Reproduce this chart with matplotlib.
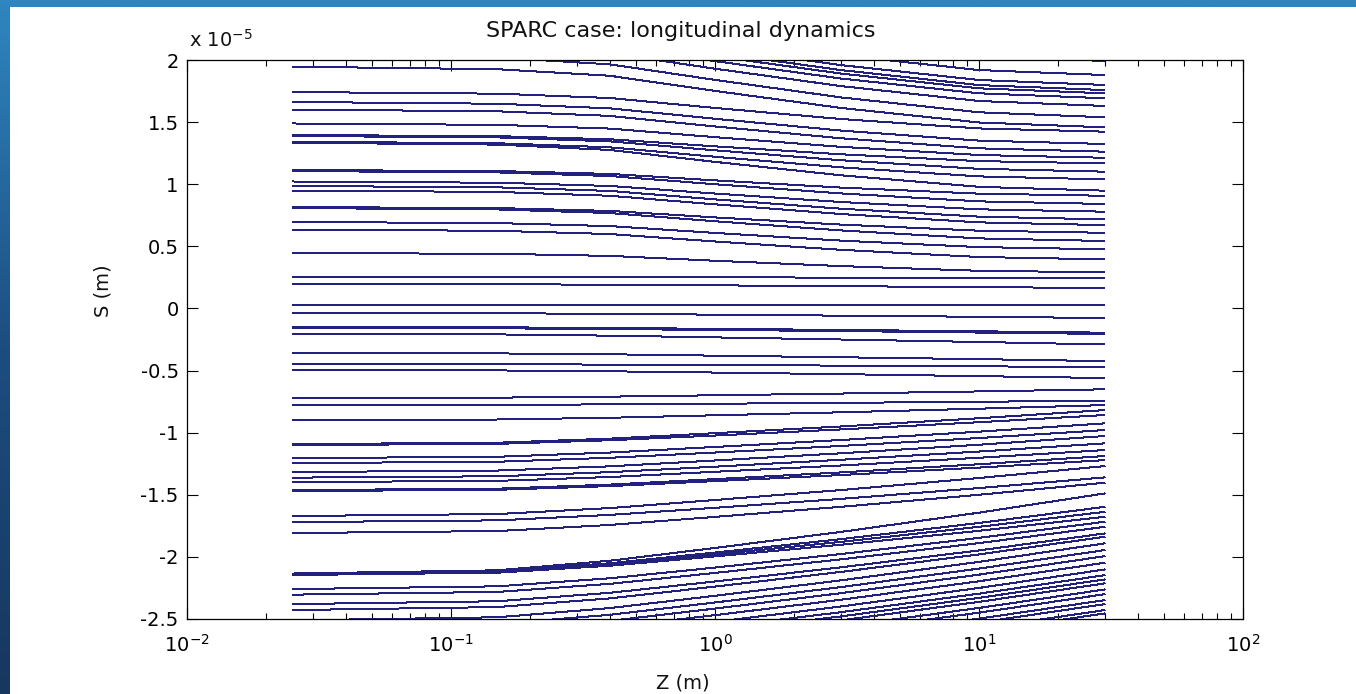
import numpy as np
import matplotlib
matplotlib.use("Agg")
import matplotlib.pyplot as plt
from matplotlib.patches import Rectangle
from matplotlib.colors import LinearSegmentedColormap
from matplotlib.ticker import FixedLocator, LogLocator, NullFormatter

# ---------------- data (S in units of 1e-5 m) ----------------
z_nodes = [0.025, 0.15, 0.4, 1.0, 3.0, 10.0, 30.0]

s_z0025 = [2.49, 2.38, 2.30, 2.26, 2.23, 2.19, 2.13, 2.04, 1.946, 1.742, 1.662, 1.601, 1.489, 1.396, 1.388,
           1.342, 1.334, 1.114, 1.106, 1.022, 0.986, 0.949, 0.816, 0.808, 0.696, 0.635, 0.446,
           0.255, 0.196, 0.027, -0.037, -0.150, -0.158, -0.206, -0.359, -0.448, -0.496,
           -0.721, -0.778, -0.899, -1.092, -1.100, -1.205, -1.245, -1.317, -1.362, -1.398, -1.462, -1.470,
           -1.671, -1.720, -1.808, -2.134, -2.138, -2.142, -2.146, -2.259, -2.304, -2.380, -2.428,
           -2.511, -2.565, -2.614, -2.667, -2.721, -2.767, -2.801, -2.833, -2.882, -2.920, -2.968, -3.000,
           -3.048, -3.075]
s_z015 = [2.470, 2.360, 2.280, 2.240, 2.210, 2.170, 2.110, 2.020, 1.926, 1.729, 1.648, 1.587, 1.478, 1.387, 1.377,
          1.330, 1.319, 1.106, 1.095, 1.012, 0.975, 0.938, 0.808, 0.797, 0.687, 0.625, 0.440,
          0.254, 0.195, 0.027, -0.039, -0.152, -0.160, -0.209, -0.362, -0.449, -0.499,
          -0.718, -0.777, -0.894, -1.081, -1.090, -1.194, -1.234, -1.305, -1.351, -1.388, -1.451, -1.460,
          -1.655, -1.706, -1.792, -2.108, -2.116, -2.122, -2.127, -2.237, -2.282, -2.357, -2.404,
          -2.486, -2.540, -2.589, -2.642, -2.696, -2.742, -2.776, -2.808, -2.857, -2.895, -2.943, -2.975,
          -3.023, -3.050]
s_z04 = [2.415, 2.305, 2.225, 2.185, 2.155, 2.115, 2.055, 1.965, 1.873, 1.694, 1.611, 1.550, 1.448, 1.362, 1.345,
         1.297, 1.276, 1.083, 1.066, 0.986, 0.946, 0.907, 0.785, 0.768, 0.663, 0.599, 0.423,
         0.253, 0.191, 0.027, -0.043, -0.157, -0.166, -0.219, -0.369, -0.452, -0.506,
         -0.710, -0.772, -0.880, -1.048, -1.061, -1.160, -1.202, -1.271, -1.318, -1.357, -1.418, -1.430,
         -1.607, -1.662, -1.743, -2.031, -2.051, -2.061, -2.071, -2.172, -2.217, -2.289, -2.334,
         -2.412, -2.466, -2.515, -2.568, -2.622, -2.668, -2.702, -2.734, -2.783, -2.821, -2.869, -2.901,
         -2.949, -2.976]
s_z1 = [2.291, 2.180, 2.100, 2.059, 2.031, 1.991, 1.930, 1.840, 1.751, 1.614, 1.527, 1.465, 1.379, 1.305, 1.273,
        1.221, 1.180, 1.031, 1.000, 0.925, 0.878, 0.838, 0.733, 0.702, 0.608, 0.539, 0.384,
        0.251, 0.186, 0.028, -0.050, -0.164, -0.173, -0.233, -0.380, -0.456, -0.516,
        -0.699, -0.767, -0.860, -1.004, -1.023, -1.115, -1.160, -1.224, -1.274, -1.315, -1.374, -1.390,
        -1.542, -1.605, -1.678, -1.928, -1.965, -1.980, -1.996, -2.086, -2.129, -2.198, -2.239,
        -2.313, -2.367, -2.416, -2.469, -2.523, -2.569, -2.603, -2.635, -2.684, -2.722, -2.770, -2.802,
        -2.850, -2.877]
s_z3 = [2.151, 2.039, 1.959, 1.919, 1.891, 1.851, 1.790, 1.699, 1.614, 1.525, 1.432, 1.370, 1.301, 1.241, 1.193,
        1.136, 1.072, 0.973, 0.926, 0.857, 0.803, 0.760, 0.675, 0.628, 0.546, 0.472, 0.341,
        0.248, 0.179, 0.029, -0.058, -0.173, -0.182, -0.250, -0.393, -0.460, -0.529,
        -0.685, -0.760, -0.836, -0.950, -0.974, -1.059, -1.107, -1.166, -1.218, -1.264, -1.320, -1.341,
        -1.462, -1.533, -1.597, -1.799, -1.857, -1.879, -1.902, -1.977, -2.020, -2.084, -2.121,
        -2.189, -2.243, -2.292, -2.345, -2.399, -2.445, -2.479, -2.511, -2.560, -2.598, -2.646, -2.678,
        -2.726, -2.753]
s_z10 = [2.032, 1.919, 1.839, 1.798, 1.772, 1.732, 1.670, 1.579, 1.497, 1.449, 1.351, 1.289, 1.235, 1.186, 1.124,
         1.063, 0.979, 0.924, 0.862, 0.798, 0.739, 0.693, 0.626, 0.564, 0.494, 0.414, 0.303,
         0.245, 0.172, 0.029, -0.067, -0.184, -0.194, -0.270, -0.408, -0.466, -0.545,
         -0.668, -0.751, -0.807, -0.884, -0.916, -0.992, -1.043, -1.097, -1.152, -1.202, -1.254, -1.281,
         -1.365, -1.446, -1.500, -1.644, -1.727, -1.758, -1.790, -1.847, -1.889, -1.948, -1.980,
         -2.040, -2.094, -2.143, -2.196, -2.250, -2.296, -2.330, -2.362, -2.411, -2.449, -2.497, -2.529,
         -2.577, -2.604]
s_z30 = [1.992, 1.879, 1.799, 1.758, 1.732, 1.692, 1.630, 1.539, 1.458, 1.423, 1.324, 1.262, 1.213, 1.168, 1.101,
         1.039, 0.948, 0.907, 0.841, 0.779, 0.717, 0.671, 0.609, 0.543, 0.476, 0.395, 0.291,
         0.242, 0.164, 0.030, -0.077, -0.195, -0.205, -0.290, -0.424, -0.472, -0.560,
         -0.651, -0.743, -0.778, -0.818, -0.858, -0.925, -0.979, -1.027, -1.086, -1.140, -1.188, -1.221,
         -1.269, -1.360, -1.403, -1.489, -1.597, -1.637, -1.677, -1.717, -1.758, -1.811, -1.838,
         -1.891, -1.945, -1.994, -2.047, -2.101, -2.147, -2.181, -2.213, -2.262, -2.300, -2.348, -2.380,
         -2.428, -2.455]

y_ticks = [-2.5, -2, -1.5, -1, -0.5, 0, 0.5, 1, 1.5, 2]
y_tick_labels = ['-2.5', '-2', '-1.5', '-1', '-0.5', '0', '0.5', '1', '1.5', '2']
x_ticks = [1e-2, 1e-1, 1e0, 1e1, 1e2]
x_tick_labels = [r'$10^{-2}$', r'$10^{-1}$', r'$10^{0}$', r'$10^{1}$', r'$10^{2}$']

# ---------------- figure ----------------
W, H = 1356, 694
plt.rcParams['font.family'] = ['DejaVu Sans']
plt.rcParams['mathtext.fontset'] = 'dejavusans'
fig = plt.figure(figsize=(W / 100, H / 100), dpi=100)

# slide background (blue gradient visible on left and top edges)
bg = fig.add_axes([0, 0, 1, 1], zorder=-10)
grad = np.linspace(0, 1, 256)[:, None]
cmap = LinearSegmentedColormap.from_list('bg', ['#2f86c0', '#1d4d80', '#17375e'])
bg.imshow(grad, aspect='auto', cmap=cmap, extent=[0, 1, 0, 1])
bg.add_patch(Rectangle((10 / W, 0), 1, 1 - 7 / H, facecolor='white', edgecolor='none'))
bg.set_xlim(0, 1)
bg.set_ylim(0, 1)
bg.axis('off')

L, R, T, B = 187, 1243, 60, 619
ax = fig.add_axes([L / W, (H - B) / H, (R - L) / W, (B - T) / H])
ax.set_facecolor('white')

LINE = '#22227e'
data_cols = [s_z0025, s_z015, s_z04, s_z1, s_z3, s_z10, s_z30]
for i in range(len(s_z0025)):
    ax.plot(z_nodes, [col[i] for col in data_cols], color=LINE, lw=0.72,
            antialiased=False, solid_capstyle='butt')

ax.set_xscale('log')
ax.set_xlim(1e-2, 1e2)
ax.set_ylim(-2.5, 2)
ax.xaxis.set_major_locator(FixedLocator(x_ticks))
ax.set_xticklabels(x_tick_labels)
ax.xaxis.set_minor_locator(LogLocator(base=10, subs=np.arange(2, 10)))
ax.xaxis.set_minor_formatter(NullFormatter())
ax.set_yticks(y_ticks)
ax.set_yticklabels(y_tick_labels)

ax.tick_params(axis='both', which='major', direction='in', top=True, right=True,
               length=8, width=0.8, labelsize=14, colors='black')
ax.tick_params(axis='x', which='major', pad=11)
ax.tick_params(axis='y', which='major', pad=6)
ax.tick_params(axis='x', which='minor', direction='in', top=True, bottom=True,
               length=4.3, width=0.8)
for sp in ax.spines.values():
    sp.set_linewidth(0.9)
    sp.set_color('black')

fig.text(681 / W, 1 - 31 / H, 'SPARC case: longitudinal dynamics', ha='center', va='center',
         fontsize=16, color='#111111')
fig.text(683 / W, 1 - 683 / H, 'Z (m)', ha='center', va='center', fontsize=14, color='#111111')
fig.text(103 / W, 1 - 291 / H, 'S (m)', ha='center', va='center', rotation=90, fontsize=14,
         color='#111111')
fig.text(189 / W, 1 - 47 / H, r'x 10$^{-5}$', ha='left', va='baseline', fontsize=14, color='#111111')

fig.savefig('out.png', dpi=100)
